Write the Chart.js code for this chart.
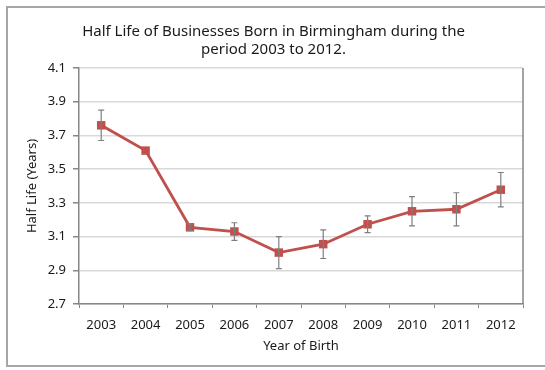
<!DOCTYPE html>
<html lang="en">
<head>
    <meta charset="UTF-8">
    <title>Half Life of Businesses Born in Birmingham</title>
    <script src="https://cdn.jsdelivr.net/npm/chart.js"></script>
    <style>
        html, body { margin: 0; padding: 0; background: #fff; }
        .wrap { position: relative; width: 545px; height: 370px; overflow: hidden; }
        .frame {
            position: absolute; left: 6px; top: 6px; width: 560px; height: 361px;
            border: 2px solid #a6a6a6; box-sizing: border-box; pointer-events: none;
        }
    </style>
</head>
<body>
    <div class="wrap">
        <canvas id="halfLifeChart" width="545" height="370"></canvas>
        <div class="frame"></div>
    </div>

    <script>
        const years = ['2003', '2004', '2005', '2006', '2007', '2008', '2009', '2010', '2011', '2012'];
        const halfLife = [3.76, 3.61, 3.155, 3.13, 3.005, 3.055, 3.173, 3.25, 3.262, 3.378];
        const errorSize = [0.09, 0.0, 0.02, 0.052, 0.095, 0.085, 0.05, 0.087, 0.098, 0.102];
        const yTicks = [2.7, 2.9, 3.1, 3.3, 3.5, 3.7, 3.9, 4.1];

        const fontFamily = "'Noto Sans', 'Open Sans', sans-serif";

        // error bars, drawn from the scales
        const errorBars = {
            id: 'errorBars',
            afterDatasetsDraw(chart) {
                const ctx = chart.ctx;
                const x = chart.scales.x;
                const y = chart.scales.y;
                ctx.save();
                ctx.strokeStyle = '#7f7f7f';
                ctx.lineWidth = 1.2;
                halfLife.forEach((v, i) => {
                    const e = errorSize[i];
                    if (!e) return;
                    const px = x.getPixelForValue(i);
                    const top = y.getPixelForValue(v + e);
                    const bot = y.getPixelForValue(v - e);
                    ctx.beginPath();
                    ctx.moveTo(px, top); ctx.lineTo(px, bot);
                    ctx.moveTo(px - 3, top); ctx.lineTo(px + 3, top);
                    ctx.moveTo(px - 3, bot); ctx.lineTo(px + 3, bot);
                    ctx.stroke();
                });
                ctx.restore();
            }
        };

        // plot area right border
        const plotBorder = {
            id: 'plotBorder',
            beforeDatasetsDraw(chart) {
                const a = chart.chartArea;
                const ctx = chart.ctx;
                ctx.save();
                ctx.strokeStyle = '#868686';
                ctx.lineWidth = 1.5;
                ctx.beginPath();
                ctx.moveTo(a.right, a.top);
                ctx.lineTo(a.right, a.bottom);
                ctx.stroke();
                ctx.restore();
            }
        };

        new Chart(document.getElementById('halfLifeChart'), {
            type: 'line',
            data: {
                labels: years,
                datasets: [{
                    data: halfLife,
                    borderColor: '#c0504d',
                    backgroundColor: '#c0504d',
                    borderWidth: 2.8,
                    pointStyle: 'rect',
                    pointRadius: 6,
                    pointBorderWidth: 0,
                    tension: 0
                }]
            },
            options: {
                responsive: false,
                animation: false,
                layout: { padding: { left: 24, right: 22, top: 0, bottom: 16 } },
                plugins: {
                    legend: { display: false },
                    tooltip: { enabled: false },
                    title: {
                        display: true,
                        text: ['Half Life of Businesses Born in Birmingham during the', 'period 2003 to 2012.'],
                        color: '#1a1a1a',
                        font: { family: fontFamily, size: 15, weight: 'normal', lineHeight: 1.2 },
                        padding: { top: 23, bottom: 9 }
                    }
                },
                scales: {
                    x: {
                        type: 'category',
                        offset: true,
                        afterFit: s => { s.height = 50; },
                        grid: {
                            offset: true,
                            drawOnChartArea: false,
                            color: '#868686',
                            tickLength: 4
                        },
                        border: { color: '#868686', width: 1.5 },
                        ticks: {
                            color: '#1a1a1a',
                            font: { family: fontFamily, size: 13 },
                            padding: 9,
                            maxRotation: 0,
                            autoSkip: false
                        },
                        title: {
                            display: true,
                            text: 'Year of Birth',
                            color: '#1a1a1a',
                            font: { family: fontFamily, size: 13 },
                            padding: { top: 0, bottom: 0 }
                        }
                    },
                    y: {
                        min: 2.7,
                        max: 4.1,
                        afterBuildTicks: s => { s.ticks = yTicks.map(v => ({ value: v })); },
                        afterFit: s => { s.width = 55; },
                        grid: {
                            color: '#d9d9d9',
                            lineWidth: 1.5,
                            tickColor: '#868686',
                            tickLength: 6
                        },
                        border: { color: '#868686', width: 1.5 },
                        ticks: {
                            color: '#1a1a1a',
                            font: { family: fontFamily, size: 13 },
                            padding: 7,
                            callback: v => Number(v).toFixed(1)
                        },
                        title: {
                            display: true,
                            text: 'Half Life (Years)',
                            color: '#1a1a1a',
                            font: { family: fontFamily, size: 13 },
                            padding: { top: 0, bottom: 0 }
                        }
                    }
                }
            },
            plugins: [plotBorder, errorBars]
        });
    </script>
</body>
</html>
